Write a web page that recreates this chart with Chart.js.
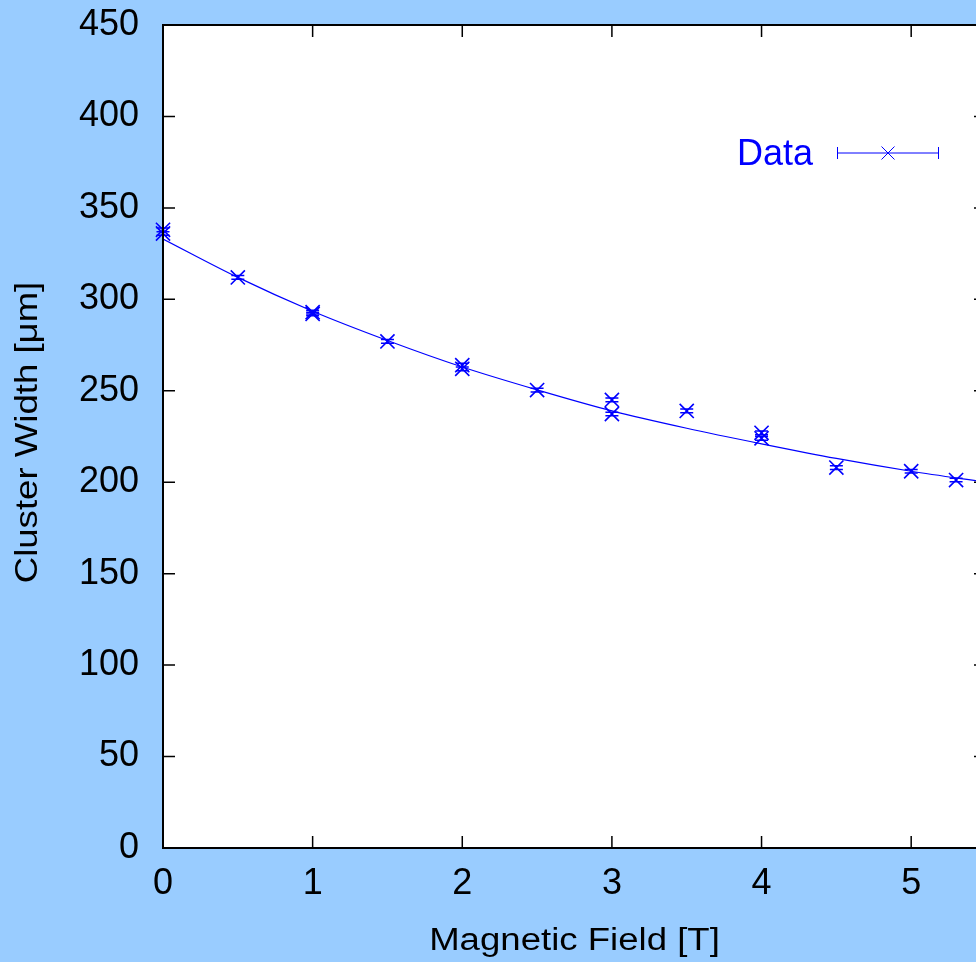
<!DOCTYPE html>
<html>
<head>
<meta charset="utf-8">
<title>Cluster width vs magnetic field</title>
<script src="https://cdn.jsdelivr.net/npm/chart.js@4/dist/chart.umd.min.js"></script>
<style>
  html, body { margin: 0; padding: 0; overflow: hidden; background: #99ccff; }
  canvas { display: block; }
</style>
</head>
<body>
<canvas id="widthChart" width="1000" height="962"></canvas>
<script>
"use strict";

// measured cluster widths (um) per field setting (T)
let fieldValues = [0, 0, 0.5, 1, 1, 1.5, 2, 2, 2.5, 3, 3, 3.5, 4, 4, 4.5, 5, 5.3];
let widthValues = [338, 336, 312, 293, 292, 277, 264, 262, 250.4, 245, 237.3, 239, 227, 224, 208, 206, 201.2];
let widthErrors = [1, 1, 1, 1, 1, 1, 1, 1, 1, 1, 1, 1, 1, 1, 1, 1, 1];

// fitted curve, sampled along the field axis
let fitField = [0, 0.5, 1, 1.5, 2, 2.5, 3, 3.5, 4, 4.5, 5, 5.5];
let fitWidth = [333, 312, 293.5, 277.5, 263, 250.5, 239, 229.5, 221, 213, 206, 200];

let yTicks = [0, 50, 100, 150, 200, 250, 300, 350, 400, 450];
let xTicks = [0, 1, 2, 3, 4, 5];

let blue = "#0000ff";
let fontFamily = "'Liberation Sans', Arial, Helvetica, sans-serif";

Chart.defaults.font.family = fontFamily;
Chart.defaults.color = "#000000";

let dataPoints = [];
for (let i = 0; i < fieldValues.length; i++) {
  dataPoints.push({ x: fieldValues[i], y: widthValues[i], err: widthErrors[i] });
}
let fitPoints = [];
for (let i = 0; i < fitField.length; i++) {
  fitPoints.push({ x: fitField[i], y: fitWidth[i] });
}

// white plot area, black frame and inward tick marks
let frameAndTicks = {
  id: "frameAndTicks",
  beforeDatasetsDraw(chart) {
    let a = chart.chartArea;
    let ctx = chart.ctx;
    ctx.save();
    ctx.fillStyle = "#ffffff";
    ctx.fillRect(a.left, a.top, a.right - a.left, a.bottom - a.top);
    ctx.restore();
  },
  afterDraw(chart) {
    let a = chart.chartArea;
    let ctx = chart.ctx;
    let xs = chart.scales.x;
    let ys = chart.scales.y;
    ctx.save();
    ctx.strokeStyle = "#000000";
    ctx.lineWidth = 1.5;
    ctx.beginPath();
    xTicks.forEach(function (v) {
      let px = xs.getPixelForValue(v);
      ctx.moveTo(px, a.bottom);
      ctx.lineTo(px, a.bottom - 12);
      ctx.moveTo(px, a.top);
      ctx.lineTo(px, a.top + 12);
    });
    yTicks.forEach(function (v) {
      let py = ys.getPixelForValue(v);
      ctx.moveTo(a.left, py);
      ctx.lineTo(a.left + 12, py);
      ctx.moveTo(a.right, py);
      ctx.lineTo(a.right - 12, py);
    });
    ctx.stroke();
    ctx.lineWidth = 2;
    ctx.strokeRect(a.left, a.top, a.right - a.left, a.bottom - a.top);
    ctx.restore();
  },
};

// vertical error bars with caps on the measured points
let errorBars = {
  id: "errorBars",
  afterDatasetsDraw(chart) {
    let ctx = chart.ctx;
    let xs = chart.scales.x;
    let ys = chart.scales.y;
    let ds = chart.data.datasets[1];
    ctx.save();
    ctx.strokeStyle = blue;
    ctx.lineWidth = 1.5;
    ctx.beginPath();
    ds.data.forEach(function (p) {
      let px = xs.getPixelForValue(p.x);
      let top = ys.getPixelForValue(p.y + p.err);
      let bot = ys.getPixelForValue(p.y - p.err);
      ctx.moveTo(px, top);
      ctx.lineTo(px, bot);
      ctx.moveTo(px - 6.5, top);
      ctx.lineTo(px + 6.5, top);
      ctx.moveTo(px - 6.5, bot);
      ctx.lineTo(px + 6.5, bot);
    });
    ctx.stroke();
    ctx.restore();
  },
};

// axis titles and the key entry
let titlesAndKey = {
  id: "titlesAndKey",
  afterDraw(chart) {
    let a = chart.chartArea;
    let ctx = chart.ctx;
    ctx.save();
    ctx.fillStyle = "#000000";
    ctx.font = "31px " + fontFamily;
    ctx.textAlign = "center";
    ctx.textBaseline = "alphabetic";

    ctx.save();
    ctx.translate((a.left + a.right) / 2, 950);
    ctx.scale(1.18, 1);
    ctx.fillText("Magnetic Field [T]", 0, 0);
    ctx.restore();

    ctx.save();
    ctx.translate(37, (a.top + a.bottom) / 2 - 4);
    ctx.rotate(-Math.PI / 2);
    ctx.scale(1.18, 1);
    ctx.fillText("Cluster Width [\u03bcm]", 0, 0);
    ctx.restore();

    // key: label, errorbar sample and marker
    ctx.fillStyle = blue;
    ctx.font = "36px " + fontFamily;
    ctx.textAlign = "right";
    ctx.fillText(chart.data.datasets[1].label, 813, 165);

    ctx.strokeStyle = blue;
    ctx.lineWidth = 1;
    ctx.beginPath();
    ctx.moveTo(837, 153);
    ctx.lineTo(939, 153);
    ctx.moveTo(837.5, 147);
    ctx.lineTo(837.5, 159);
    ctx.moveTo(938.5, 147);
    ctx.lineTo(938.5, 159);
    ctx.moveTo(881.5, 146.5);
    ctx.lineTo(894.5, 159.5);
    ctx.moveTo(894.5, 146.5);
    ctx.lineTo(881.5, 159.5);
    ctx.stroke();
    ctx.restore();
  },
};

let ctx = document.getElementById("widthChart").getContext("2d");
let widthChart = new Chart(ctx, {
  type: "scatter",
  data: {
    datasets: [
      {
        label: "Fit",
        data: fitPoints,
        showLine: true,
        borderColor: blue,
        borderWidth: 1.2,
        pointRadius: 0,
        cubicInterpolationMode: "monotone",
        fill: false,
      },
      {
        label: "Data",
        data: dataPoints,
        showLine: false,
        pointStyle: "crossRot",
        pointRadius: 10,
        pointBorderWidth: 1.6,
        borderColor: blue,
        backgroundColor: blue,
        clip: false,
      },
    ],
  },
  options: {
    responsive: false,
    animation: false,
    layout: {
      padding: { top: 25, right: 14, bottom: 0, left: 0 },
    },
    plugins: {
      legend: { display: false },
      tooltip: { enabled: false },
    },
    scales: {
      x: {
        type: "linear",
        min: 0,
        max: 5.5,
        grid: { display: false, drawTicks: false },
        border: { display: false },
        ticks: {
          stepSize: 1,
          includeBounds: false,
          padding: 14,
          font: { size: 36 },
          color: "#000000",
        },
        afterFit: function (scale) {
          scale.height = 114;
          scale.paddingLeft = 0;
          scale.paddingRight = 0;
        },
      },
      y: {
        min: 0,
        max: 450,
        grid: { display: false, drawTicks: false },
        border: { display: false },
        ticks: {
          stepSize: 50,
          padding: 24,
          font: { size: 36 },
          color: "#000000",
        },
        afterFit: function (scale) {
          scale.width = 163;
          scale.paddingTop = 0;
          scale.paddingBottom = 0;
        },
      },
    },
  },
  plugins: [frameAndTicks, errorBars, titlesAndKey],
});
</script>
</body>
</html>
